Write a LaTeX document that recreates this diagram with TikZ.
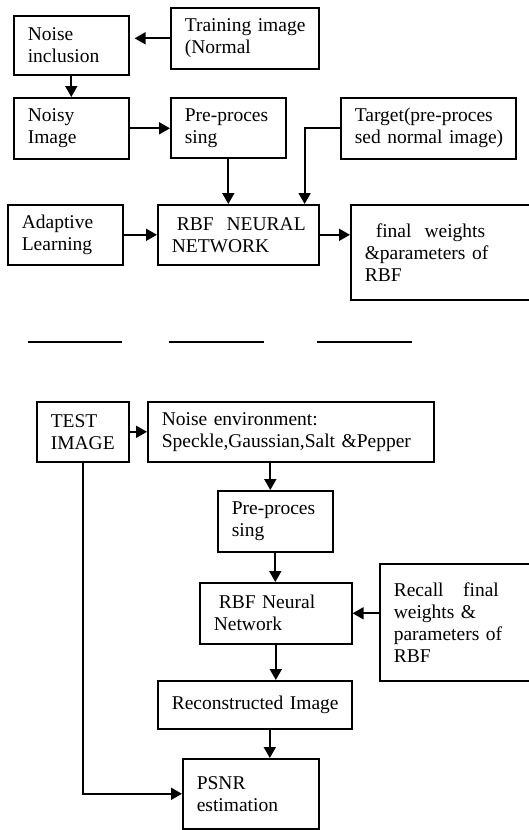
\documentclass[tikz,border=0pt]{standalone}
\usepackage{fontspec}
\setmainfont{Liberation Serif}
\usetikzlibrary{arrows.meta}
\hyphenpenalty=10000
\exhyphenpenalty=10000
\hbadness=10000
\hfuzz=30pt

\begin{document}
\begin{tikzpicture}[x=1pt, y=-1pt,
        box/.style={draw, line width=1.6pt, anchor=north west, inner xsep=14pt, inner ysep=0pt,
            align=left, font=\fontsize{19.5}{22}\selectfont},
        arr/.style={line width=1.8pt, -{Triangle[length=11pt,width=12pt]}}]
        \useasboundingbox (0,0) rectangle (529,830);

        % training
        \node[box, text width=87pt, minimum height=59pt] (noise) at (13,15) {Noise\\inclusion};
        \node[box, text width=120pt, minimum height=61pt] (train) at (170,7) {Training~image\\(Normal};
        \node[box, text width=87pt, minimum height=61pt] (noisy) at (13,97) {Noisy\\Image};
        \node[box, text width=87pt, minimum height=60pt] (pre) at (170,97) {Pre-proces\\sing};
        \node[box, text width=147pt, minimum height=61pt] (target) at (340,97) {Target(pre-proces\\sed~normal~image)};
        \node[box, text width=87pt, minimum height=60pt] (adapt) at (7,204) {Adaptive\\Learning};
        \node[box, text width=133pt, minimum height=60pt] (rbf) at (157,204) {\hspace*{5pt}RBF~~NEURAL\\NETWORK};
        \node[box, text width=157pt, minimum height=95pt] (final) at (350,204) {\hspace*{11pt}final~~weights\\\&parameters~of\\RBF};

        \draw[arr, shorten >=5pt] (train.west) -- (train.west -| noise.east);
        \draw[arr] (noise.south) -- (noisy.north);
        \draw[arr] (noisy.east) -- (noisy.east -| pre.west);
        \draw[arr] (pre.south) -- (pre.south |- rbf.north);
        \draw[arr] (target.west) -| ([xshift=-15pt]rbf.north east);
        \draw[arr] (adapt.east) -- (rbf.west);
        \draw[arr] (rbf.east) -- (rbf.east -| final.west);

        \draw[line width=1.6pt] (28,342) -- (122,342);
        \draw[line width=1.6pt] (169,342) -- (264,342);
        \draw[line width=1.6pt] (317,342) -- (412,342);

        % testing
        \node[box, text width=64pt, minimum height=60pt] (test) at (36,401) {TEST\\IMAGE};
        \node[box, text width=258pt, minimum height=60pt] (env) at (147,401) {Noise~environment:\\Speckle,Gaussian,Salt~\&Pepper};
        \node[box, text width=87pt, minimum height=61pt] (pre2) at (217,490) {Pre-proces\\sing};
        \node[box, text width=124pt, minimum height=61pt] (rbf2) at (199,582) {\hspace*{5pt}RBF~Neural\\Network};
        \node[box, text width=132pt, minimum height=117pt] (recall) at (379,563) {Recall~~~final\\weights~\&\\parameters~of\\RBF};
        \node[box, text width=166pt, minimum height=48pt] (recon) at (157,680) {Reconstructed~Image};
        \node[box, text width=108pt, minimum height=70pt] (psnr) at (182,758) {PSNR\\estimation};

        \draw[arr] (test.east) -- (env.west);
        \draw[arr] ([xshift=-5pt]pre2.north |- env.south) -- ([xshift=-5pt]pre2.north);
        \draw[arr] (pre2.south) -- (pre2.south |- rbf2.north);
        \draw[arr] (recall.west |- rbf2.east) -- (rbf2.east);
        \draw[arr] (rbf2.south) -- (rbf2.south |- recon.north);
        \draw[arr] ([xshift=15pt]recon.south) -- ([xshift=15pt]recon.south |- psnr.north);
        \draw[arr] (test.south) |- (psnr.west);
    \end{tikzpicture}
\end{document}
